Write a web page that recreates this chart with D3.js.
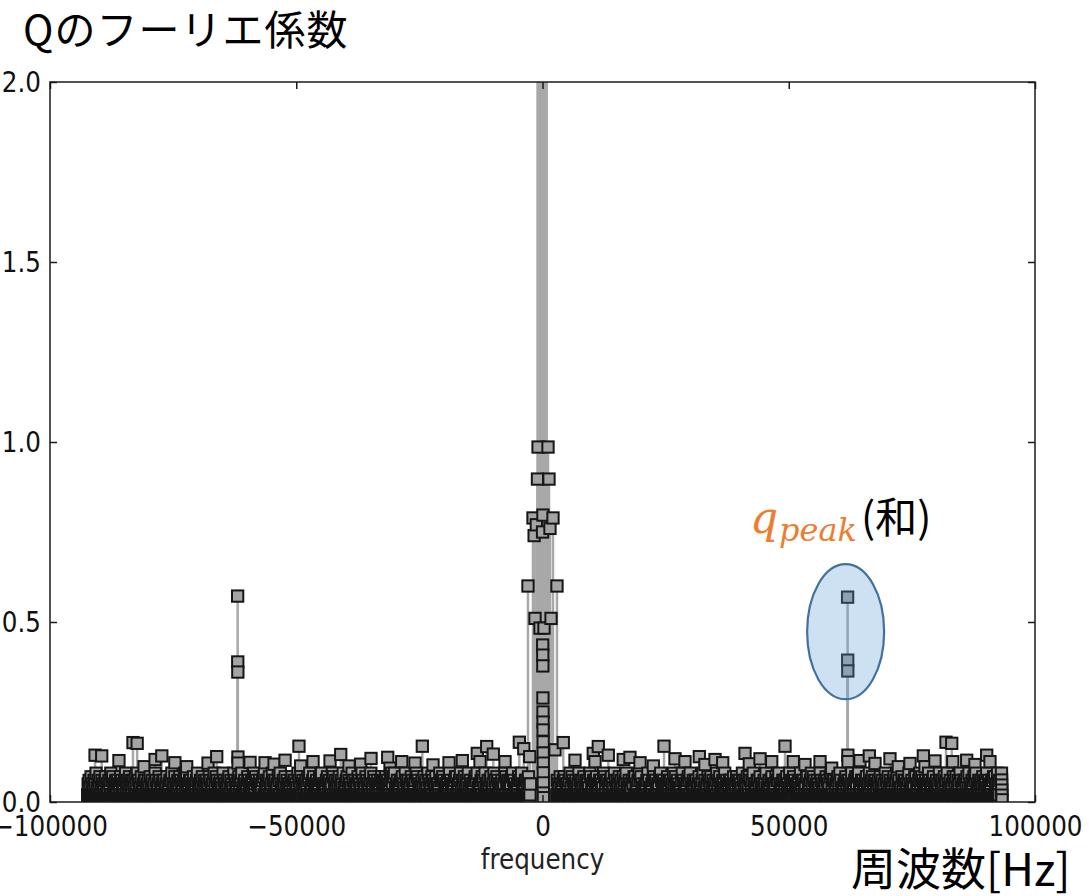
<!DOCTYPE html>
<html><head><meta charset="utf-8">
<script src="https://cdn.jsdelivr.net/npm/d3@7"></script>
<style>
html,body{margin:0;padding:0;background:#fff;}
svg{display:block;}
</style></head>
<body>
<svg id="chart" width="1089" height="896"></svg>
<script>
// ---------- data ----------
const xTicks = [-100000, -50000, 0, 50000, 100000];
const yTicks = [0, 0.5, 1.0, 1.5, 2.0];

// dense noise floor: one digit per bin = magnitude in hundredths, bins floorStep Hz apart
const floorStep = 100;
const floorNegEnd = -2450;     // last bin below the DC cluster
const floorNegDigits = [
  "2516241725 1426251824 2615271426 1524261725 2416152826 1725241625",
  "2615142716 2514261825 1624271526 2516142725 1826251427 2415261624",
  "1526241725 2614251826 1425271624 2516261425 1724251626 2815241725",
  "2416251726 1524261825 2715241626 1425271524 2618251426 1527241625",
  "1625142726 2415261825 1726241526 2514281625 1426251724 2615142826",
  "2514261725 1628241526 2415271625 1426251824 2716151426 2524161728",
  "1426251627 2415182625 1624251726 2815142625 1724261525 2416271526",
  "2615241826 1427251625 2516142726 1824251627 2415261425 1726281524",
  "1524261725 2614251827 1526241625 2714261528 1425261724 2615241826",
  "2416251527 1625241826 2514271625 1426281524 2716251426 1524261725",
  "1625271426 2514261825 1728241526 2415261627 1524281625 2614251726",
  "2514261827 1625241526 2417251624 1826251427 2615141725 1524281626",
  "1726241525 2614281625 1524261727 2415261824 1625271426 2518241625",
  "2415261726 1824251526 2716142825 1526241627 2415281624 1726251425",
  "1624251827 2516142625 1728261524 2415271626 1825241526 2614271525"
];
const floorPosStart = 2900;    // first bin above the DC cluster
const floorPosDigits = [
  "2615241725 1426271625 2514261824 1726251526 2415281625 1624271426",
  "2516241827 1425261625 2714251626 1524281725 2616142526 1725241826",
  "1426251725 2614271526 1825241625 2416151727 1524261826 2715241425",
  "2516281624 1425261726 2614251527 1826241625 2415271426 1624251825",
  "1725261524 2416281625 1524261726 2815142625 1626241527 2514261824",
  "2614251726 1527241625 2416281526 1725241625 2814261524 1626251427",
  "1524271625 2615241826 1426251725 2716142628 1525241626 2417251524",
  "2615281425 1624261725 2514271626 1825241526 2614261725 1428251624",
  "1726251425 2614281526 1624251727 2415261825 1726241526 2514281625",
  "2416251726 1524271825 2616142526 1725281624 2415261725 1626241528",
  "1524261725 2718251426 1625241627 2415281526 1724261625 2516142725",
  "2614251826 1527241625 2416271526 1825261424 2715261625 1426281524",
  "1625241727 2514261825 1726241526 2415281624 1526271425 2614251826",
  "2516241725 1628251426 2415271625 1724261528 2614251626 1527241825",
  "1426251726 2815241625 1624271526 2518241625 1426261727 2415281526"
];

// noise bins standing above the floor
const noiseFreqs = [
  -90850, -89500, -86000, -83150, -82300, -80900, -78660, -77300, -74650, -72250,
  -67910, -66150, -59380, -56330, -54510, -52270, -49450, -49100, -46590, -43140,
  -40970, -39290, -36910, -34820, -31430, -30960, -28590, -25890, -24400, -22230,
  -18980, -16280, -13240, -12690, -11330, -9990, -7610, -4700, -3800, -2600,
  2540, 4220, 6600, 10310, 10660, 11330, 13360, 16400, 17760, 19800,
  22500, 24670, 26900, 28930, 31840, 32990, 35030, 36590, 41120, 41990,
  44160, 46540, 49240, 50920, 53300, 56350, 58720, 64460, 66360, 67520,
  70550, 72250, 74620, 77330, 77670, 79690, 81930, 83090, 83300, 86130,
  87810, 90190, 90860
];
const noiseVals = [
  0.130, 0.128, 0.115, 0.165, 0.163, 0.098, 0.118, 0.128, 0.109, 0.098,
  0.108, 0.126, 0.110, 0.109, 0.105, 0.116, 0.155, 0.100, 0.112, 0.114,
  0.132, 0.100, 0.105, 0.121, 0.124, 0.094, 0.112, 0.108, 0.155, 0.103,
  0.109, 0.115, 0.135, 0.112, 0.154, 0.133, 0.112, 0.166, 0.148, 0.126,
  0.145, 0.165, 0.116, 0.135, 0.112, 0.154, 0.130, 0.118, 0.124, 0.109,
  0.100, 0.155, 0.120, 0.112, 0.126, 0.104, 0.118, 0.109, 0.135, 0.106,
  0.120, 0.112, 0.155, 0.112, 0.104, 0.112, 0.094, 0.115, 0.128, 0.107,
  0.120, 0.098, 0.107, 0.128, 0.098, 0.114, 0.166, 0.163, 0.112, 0.116,
  0.104, 0.130, 0.112
];

// low-frequency cluster around 0 Hz (some values run off the top)
const centerFreqs = [
  -2950, -1930, -1700, -1520, -1250, -1020, -1000, -900, -700, -510, -450, -200,
  10, 40, 55, 70, 85, 90, 100, 110, 120, 130, 140, 150, 155, 160, 165, 170, 175, 180,
  300, 400, 650, 850, 1120, 1320, 1520, 1730, 2130, 2940
];
const centerVals = [
  0.60, 0.789, 0.74, 0.51, 0.77, 0.897, 2.3, 0.986, 3.1, 0.483, 4.4, 8.6,
  0.75, 0.436, 0.408, 0.378, 0.289, 0.797, 0.25, 0.222, 0.20, 0.167, 0.136, 9.7, 0.108, 0.081, 0.053, 0.025, 0.0, 0.012,
  0.483, 4.9, 3.2, 2.5, 0.986, 0.897, 0.76, 0.51, 0.789, 0.60
];

// sidebands at about ±62 kHz
const sideFreqs = [-61900, -61880, -61860, -61840, -61820, 61950, 61970, 61990, 62010, 62030];
const sideVals  = [0.572, 0.389, 0.361, 0.125, 0.108, 0.569, 0.394, 0.364, 0.130, 0.112];

// last bins at the upper edge of the band
const edgeFreqs = [93200, 93220, 93240, 93260, 93280, 93300];
const edgeVals  = [0.080, 0.061, 0.047, 0.033, 0.019, 0.006];

// ---------- layout ----------
const plot = {left: 50, top: 82, right: 1035, bottom: 802};
const svg = d3.select("#chart");

const x = d3.scaleLinear().domain([-100000, 100000]).range([plot.left, plot.right]);
const y = d3.scaleLinear().domain([0, 2]).range([plot.bottom, plot.top]);

const toDigits = rows => rows.join("").replace(/\s/g, "").split("").map(Number);
const floorNeg = toDigits(floorNegDigits);
const floorPos = toDigits(floorPosDigits);

// merge every bin into one stem series, ordered by frequency
const points = [];
floorNeg.forEach((c, i) => points.push({f: floorNegEnd - (floorNeg.length - 1 - i) * floorStep, v: c / 100}));
floorPos.forEach((c, i) => points.push({f: floorPosStart + i * floorStep, v: c / 100}));
noiseFreqs.forEach((f, i) => points.push({f, v: noiseVals[i]}));
centerFreqs.forEach((f, i) => points.push({f, v: centerVals[i]}));
sideFreqs.forEach((f, i) => points.push({f, v: sideVals[i]}));
edgeFreqs.forEach((f, i) => points.push({f, v: edgeVals[i]}));
points.sort((a, b) => a.f - b.f);

svg.append("defs").append("clipPath").attr("id", "plotClip")
  .append("rect")
  .attr("x", plot.left).attr("y", plot.top)
  .attr("width", plot.right - plot.left).attr("height", plot.bottom - plot.top);

const data = svg.append("g").attr("clip-path", "url(#plotClip)");

// stems
data.append("g").selectAll("line").data(points).join("line")
  .attr("x1", d => x(d.f)).attr("x2", d => x(d.f))
  .attr("y1", y(0)).attr("y2", d => y(d.v))
  .attr("stroke", "#a8a8a8").attr("stroke-width", 2.5);

// square markers
const ms = 11.3;
data.append("g").selectAll("rect").data(points).join("rect")
  .attr("x", d => x(d.f) - ms / 2).attr("y", d => y(d.v) - ms / 2)
  .attr("width", ms).attr("height", ms)
  .attr("fill", "#a4a4a4").attr("stroke", "#161616").attr("stroke-width", 2);

// ---------- axes ----------
const axisColor = "#1a1a1a";
const tickFont = "'DejaVu Sans', sans-serif";

const gx = svg.append("g").attr("transform", `translate(0,${plot.bottom})`)
  .call(d3.axisBottom(x).tickValues(xTicks).tickSize(-7).tickFormat(d3.format("d")));
const gxTop = svg.append("g").attr("transform", `translate(0,${plot.top})`)
  .call(d3.axisTop(x).tickValues(xTicks).tickSize(-7).tickFormat(() => ""));
const gy = svg.append("g").attr("transform", `translate(${plot.left},0)`)
  .call(d3.axisLeft(y).tickValues(yTicks).tickSize(-7).tickFormat(d3.format(".1f")));
const gyRight = svg.append("g").attr("transform", `translate(${plot.right},0)`)
  .call(d3.axisRight(y).tickValues(yTicks).tickSize(-7).tickFormat(() => ""));

[gx, gxTop, gy, gyRight].forEach(g => {
  g.select(".domain").remove();
  g.attr("color", axisColor).attr("font-family", tickFont).attr("font-size", 28);
  g.selectAll(".tick line").attr("stroke-width", 1.5);
});
gx.selectAll("text").attr("y", null).attr("dy", null)
  .attr("transform", "translate(0,34) scale(0.88,1)").attr("fill", "#111");
gy.selectAll("text").attr("x", null).attr("dy", null)
  .attr("transform", "translate(-9,9.5) scale(0.88,1)").attr("fill", "#111");

// frame
svg.append("rect")
  .attr("x", plot.left).attr("y", plot.top)
  .attr("width", plot.right - plot.left).attr("height", plot.bottom - plot.top)
  .attr("fill", "none").attr("stroke", axisColor).attr("stroke-width", 1.5);

// x-axis caption
svg.append("text")
  .attr("transform", `translate(${x(0)},869) scale(0.88,1)`)
  .attr("text-anchor", "middle")
  .attr("font-family", tickFont).attr("font-size", 28).attr("fill", "#222")
  .text("frequency");

// ---------- annotations ----------
svg.append("text")
  .attr("x", 23).attr("y", 45)
  .attr("font-family", "'Noto Sans CJK JP', sans-serif").attr("font-size", 41)
  .attr("letter-spacing", 1).attr("fill", "#000")
  .text("Qのフーリエ係数");

svg.append("text")
  .attr("x", 851).attr("y", 886)
  .attr("font-family", "'Noto Sans CJK JP', sans-serif").attr("font-size", 45).attr("fill", "#000")
  .text("周波数[Hz]");

// highlight around the +62 kHz sideband
svg.append("ellipse")
  .attr("cx", x(61550)).attr("cy", y(0.473))
  .attr("rx", 38.5).attr("ry", 67.5)
  .attr("fill", "#5B9BD5").attr("fill-opacity", 0.3)
  .attr("stroke", "#41719C").attr("stroke-width", 2.2);

const peakLabel = svg.append("g");
peakLabel.append("text")
  .attr("x", 750).attr("y", 533)
  .attr("font-family", "'DejaVu Serif', serif").attr("font-style", "italic")
  .attr("font-size", 44).attr("fill", "#ED7D31")
  .text("q");
peakLabel.append("text")
  .attr("x", 779).attr("y", 541)
  .attr("font-family", "'DejaVu Serif', serif").attr("font-style", "italic")
  .attr("font-size", 32).attr("fill", "#ED7D31")
  .text("peak");
peakLabel.append("text")
  .attr("x", 861).attr("y", 533)
  .attr("font-family", "'Noto Sans CJK JP', sans-serif")
  .attr("font-size", 42).attr("fill", "#000")
  .text("(和)");
</script>
</body></html>
